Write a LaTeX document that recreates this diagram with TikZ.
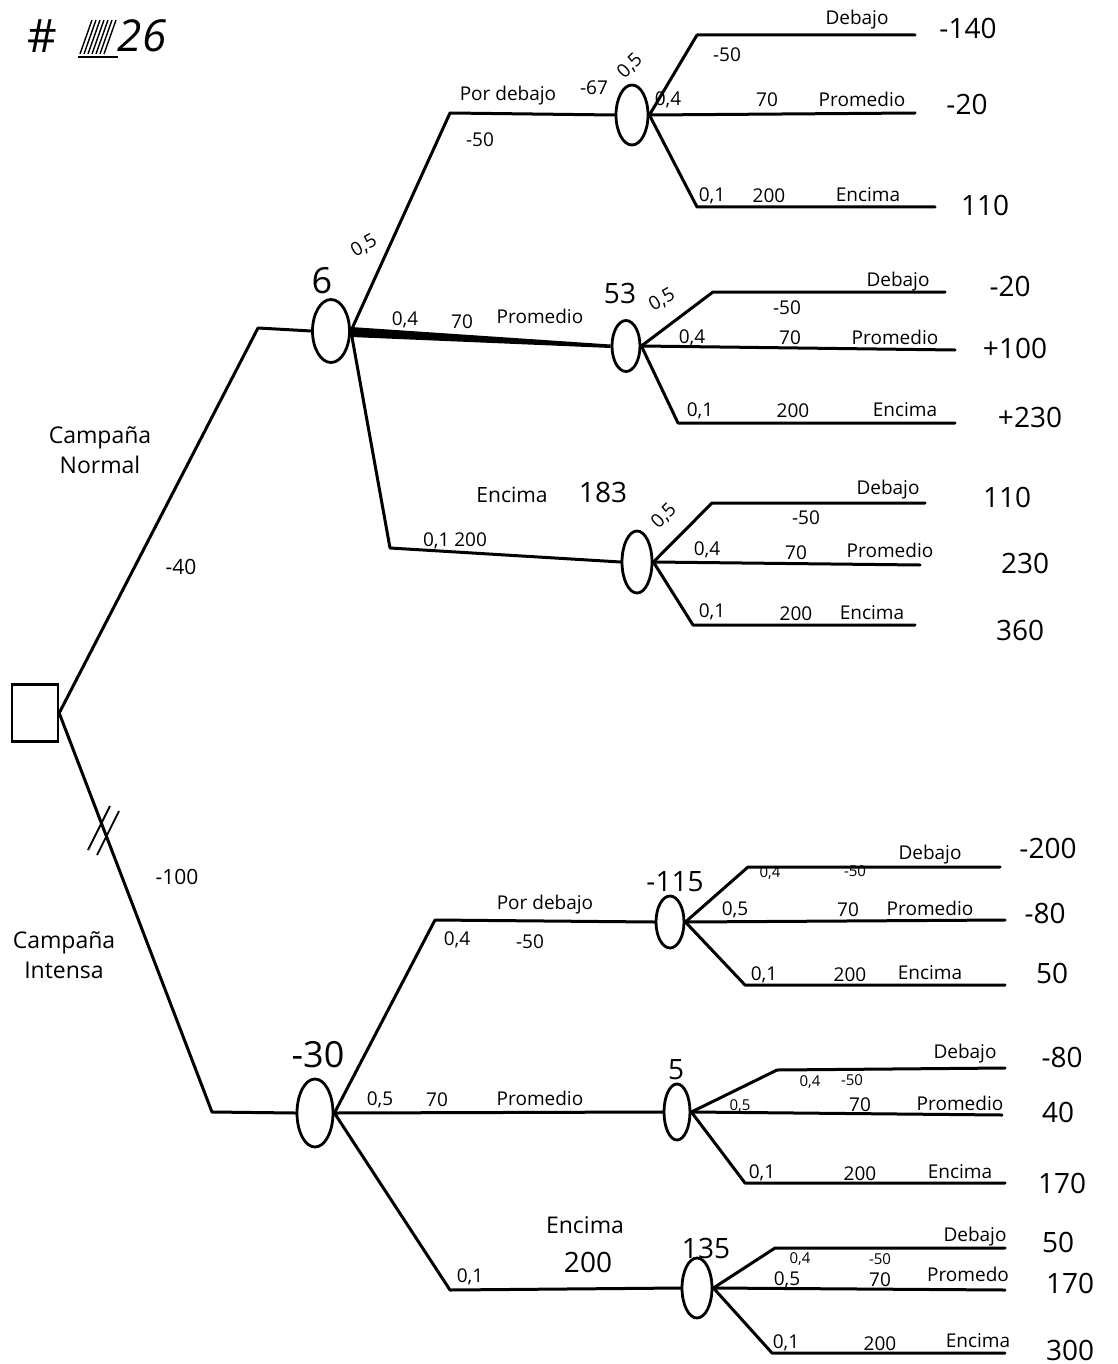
\documentclass[tikz,border=0pt]{standalone}
\usepackage{fontspec}
\setmainfont{Open Sans}
\usetikzlibrary{shapes.geometric,calc}
\begin{document}
\begin{tikzpicture}[x=1pt,y=-1pt,
  br/.style={line width=3pt, line join=round, line cap=round},
  chance/.style={ellipse, draw, line width=2.8pt, inner sep=0pt},
  lab/.style={inner sep=0pt, font=\fontsize{19}{19}\selectfont},
  sml/.style={inner sep=0pt, font=\fontsize{15}{15}\selectfont},
  val/.style={inner sep=0pt, font=\fontsize{28}{28}\selectfont},
  big/.style={inner sep=0pt, font=\fontsize{36}{36}\selectfont}]
\useasboundingbox[fill=white] (0,0) rectangle (1117,1364);

% heading
\node[big, font=\fontsize{46}{46}\selectfont] (hA) at (42,36) {\#};
\node[big, font=\fontsize{44}{44}\selectfont\itshape] (hB) at (142,36) {26};
\coordinate (s1) at (80,20);
\foreach \i in {0,...,6}{
  \draw[line width=1.4pt] ($(s1)+(\i*4,34)$) -- ++(12,-34);
}
\draw[line width=1.8pt] ($(s1)+(-2,37)$) -- ++(40,0);

% decision node and chance nodes
\node[draw, line width=2.4pt, minimum width=46, minimum height=57] (d) at (35,713) {};
\node[chance, minimum width=37, minimum height=63] (n6)   at (331,331) {};
\node[chance, minimum width=32, minimum height=60] (n67)  at (632,115) {};
\node[chance, minimum width=28, minimum height=51] (n53)  at (626,346) {};
\node[chance, minimum width=30, minimum height=62] (n183) at (637,562) {};
\node[chance, minimum width=36, minimum height=68] (n30)  at (315,1113) {};
\node[chance, minimum width=28, minimum height=52] (n115) at (670,922) {};
\node[chance, minimum width=26, minimum height=56] (n5)   at (677,1112) {};
\node[chance, minimum width=30, minimum height=60] (n135) at (697,1288) {};

% first-level branches
\coordinate (kN) at (258,328);
\coordinate (kI) at (212,1112);
\draw[br] (d.east) -- (kN) -- (n6.west);
\draw[br] (d.east) -- (kI) -- (n30.west);
\draw[line width=1.8pt] (88,850) -- (110,806);
\draw[line width=1.8pt] (97,855) -- (119,811);

% second-level branches
\coordinate (k1) at (450,113);
\coordinate (k3) at (390,548);
\draw[br] (n6.east) -- (k1) -- (n67.west);
\fill ($(n6.east)+(0,-4)$) -- ($(n6.east)+(0,6)$) -- ($(n53.west)+(0,2)$) -- ($(n53.west)+(0,-1.5)$) -- cycle;
\draw[br] (n6.east) -- (k3) -- (n183.west);
\coordinate (k4) at (435,920);
\coordinate (k6) at (450,1290);
\draw[br] (n30.east) -- (k4) -- (n115.west);
\draw[br] (n30.east) -- (n5.west);
\draw[br] (n30.east) -- (k6) -- (n135.west);

% outcome branches: upward corner, end; middle end; downward corner, end
\newcommand\outcomes[6]{%
  \coordinate (#1ua) at (#2); \coordinate (#1ub) at (#3);
  \coordinate (#1mb) at (#4);
  \coordinate (#1da) at (#5); \coordinate (#1db) at (#6);
  \draw[br] (#1.east) -- (#1ua) -- (#1ub);
  \draw[br] (#1.east) -- (#1mb);
  \draw[br] (#1.east) -- (#1da) -- (#1db);}
\outcomes{n67}{697,35}{915,35}{915,113}{697,207}{935,207}
\outcomes{n53}{713,292}{945,292}{955,350}{678,423}{955,423}
\outcomes{n183}{712,503}{925,503}{920,565}{693,625}{915,625}
\outcomes{n115}{748,867}{1000,867}{1005,920}{745,985}{1005,985}
\outcomes{n5}{777,1070}{1005,1068}{1002,1115}{745,1183}{1005,1183}
\outcomes{n135}{775,1248}{1005,1248}{1005,1290}{772,1353}{1005,1353}

% left labels
\node[lab, font=\fontsize{23}{30}\selectfont, align=center] (cN) at (100,450) {Campaña\\Normal};
\node[lab, font=\fontsize{23}{30}\selectfont, align=center] (cI) at (64,955) {Campaña\\Intensa};
\node[lab, font=\fontsize{21}{21}\selectfont] (a40) at (181,567) {-40};
\node[lab, font=\fontsize{21}{21}\selectfont] (a100) at (177,877) {-100};

% Campaña normal subtree
\node[big] (v6) at (322,281) {6};
\node[lab, rotate=30] (p6a) at (364,246) {0,5};
\node[lab] (t1) at (508,96) {Por debajo};
\node[lab] (v67) at (594,88) {-67};
\node[lab, rotate=45] (p67a) at (630,66) {0,5};
\node[lab] (t2) at (480,140) {-50};
\node[lab] (t3) at (857,20) {Debajo};
\node[val] (r1) at (968,28) {-140};
\node[lab] (t4) at (727,55) {-50};
\node[lab] (t5) at (668,100) {0,4};
\node[lab] (t6) at (767,100) {70};
\node[lab] (t7) at (862,99) {Promedio};
\node[val] (r2) at (967,104) {-20};
\node[lab] (t8) at (712,196) {0,1};
\node[lab] (t9) at (769,196) {200};
\node[lab] (t10) at (868,195) {Encima};
\node[val] (r3) at (985,205) {110};

\node[lab] (t11) at (405,320) {0,4};
\node[lab] (t12) at (462,322) {70};
\node[lab] (t13) at (540,316) {Promedio};
\node[val] (v53) at (620,293) {53};
\node[lab, rotate=30] (t14) at (662,300) {0,5};
\node[lab] (t15) at (898,282) {Debajo};
\node[val] (r4) at (1010,286) {-20};
\node[lab] (t16) at (787,308) {-50};
\node[lab] (t17) at (692,338) {0,4};
\node[lab] (t18) at (790,338) {70};
\node[lab] (t19) at (895,337) {Promedio};
\node[val] (r5) at (1015,348) {+100};
\node[lab] (t20) at (700,411) {0,1};
\node[lab] (t21) at (793,411) {200};
\node[lab] (t22) at (905,410) {Encima};
\node[val] (r6) at (1030,417) {+230};

\node[lab, font=\fontsize{21}{21}\selectfont] (t23) at (512,495) {Encima};
\node[val] (v183) at (603,492) {183};
\node[lab, rotate=45] (t24) at (664,516) {0,5};
\node[lab] (t25) at (455,541) {0,1 200};
\node[lab] (t26) at (888,490) {Debajo};
\node[val] (r7) at (1007,497) {110};
\node[lab] (t27) at (806,518) {-50};
\node[lab] (t28) at (707,550) {0,4};
\node[lab] (t29) at (796,553) {70};
\node[lab] (t30) at (890,550) {Promedio};
\node[val] (r8) at (1025,563) {230};
\node[lab] (t31) at (712,612) {0,1};
\node[lab] (t32) at (796,614) {200};
\node[lab] (t33) at (872,613) {Encima};
\node[val] (r9) at (1020,630) {360};

% Campaña intensa subtree
\node[big] (v30) at (318,1055) {-30};
\node[lab] (u1) at (545,905) {Por debajo};
\node[lab] (u2) at (457,940) {0,4};
\node[lab] (u3) at (530,942) {-50};
\node[val] (v115) at (675,882) {-115};
\node[lab] (u4) at (930,855) {Debajo};
\node[val] (q1) at (1048,848) {-200};
\node[sml] (u5) at (770,873) {0,4};
\node[sml] (u6) at (855,871) {-50};
\node[lab] (u7) at (735,910) {0,5};
\node[lab] (u8) at (848,910) {70};
\node[lab] (u9) at (930,908) {Promedio};
\node[val] (q2) at (1045,913) {-80};
\node[lab] (u10) at (764,975) {0,1};
\node[lab] (u11) at (850,975) {200};
\node[lab] (u12) at (930,973) {Encima};
\node[val] (q3) at (1052,973) {50};

\node[lab] (u13) at (380,1100) {0,5};
\node[lab] (u14) at (437,1100) {70};
\node[lab] (u15) at (540,1098) {Promedio};
\node[val] (v5) at (676,1070) {5};
\node[lab] (u16) at (965,1054) {Debajo};
\node[val] (q4) at (1062,1057) {-80};
\node[sml] (u17) at (810,1082) {0,4};
\node[sml] (u18) at (852,1080) {-50};
\node[sml] (u19) at (740,1106) {0,5};
\node[lab] (u20) at (860,1105) {70};
\node[lab] (u21) at (960,1103) {Promedio};
\node[val] (q5) at (1058,1112) {40};
\node[lab] (u22) at (762,1173) {0,1};
\node[lab] (u23) at (860,1174) {200};
\node[lab] (u24) at (960,1172) {Encima};
\node[val] (q6) at (1062,1183) {170};

\node[lab, font=\fontsize{23}{23}\selectfont] (u25) at (585,1225) {Encima};
\node[val] (u26) at (588,1262) {200};
\node[lab] (u27) at (470,1277) {0,1};
\node[val] (v135) at (706,1248) {135};
\node[lab] (u28) at (975,1237) {Debajo};
\node[val] (q7) at (1058,1242) {50};
\node[sml] (u29) at (800,1259) {0,4};
\node[sml] (u30) at (880,1259) {-50};
\node[lab] (u31) at (787,1280) {0,5};
\node[lab] (u32) at (880,1280) {70};
\node[lab] (u33) at (968,1274) {Promedo};
\node[val] (q8) at (1070,1283) {170};
\node[lab] (u34) at (786,1343) {0,1};
\node[lab] (u35) at (880,1344) {200};
\node[lab] (u36) at (978,1341) {Encima};
\node[val] (q9) at (1070,1350) {300};
\end{tikzpicture}
\end{document}
